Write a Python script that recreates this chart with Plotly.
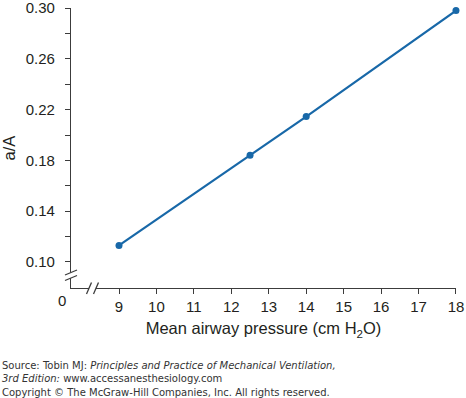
import plotly.graph_objects as go

pressure = [9, 12.5, 14, 18]
a_over_A = [0.113, 0.184, 0.2145, 0.298]

x_ticks = [9, 10, 11, 12, 13, 14, 15, 16, 17, 18]
y_major = [0.10, 0.14, 0.18, 0.22, 0.26, 0.30]
y_minor = [0.12, 0.16, 0.20, 0.24, 0.28]

W, H = 466, 398
L, R, T, B = 71, 10, 8, 110
pw, ph = W - L - R, H - T - B

def px(x):
    return (x - L) / pw

def py(y):
    return (T + ph - y) / ph

line_col = "#1868a8"
axis_col = "#3c3c3c"
text_col = "#231f20"

fig = go.Figure()
fig.add_trace(go.Scatter(
    x=pressure, y=a_over_A, mode="lines+markers",
    line=dict(color=line_col, width=2.2),
    marker=dict(color=line_col, size=7),
    cliponaxis=False, showlegend=False,
))

fig.update_layout(
    width=W, height=H,
    margin=dict(l=L, r=R, t=T, b=B, autoexpand=False),
    plot_bgcolor="white", paper_bgcolor="white",
    font=dict(family="Liberation Sans, Arial, sans-serif", size=15, color=text_col),
    xaxis=dict(
        range=[7.718, 18.0005], showgrid=False, zeroline=False, automargin=False,
        showline=True, linecolor=axis_col, linewidth=1.3,
        ticks="outside", ticklen=5, tickwidth=1.3, tickcolor=axis_col,
        tickvals=x_ticks, ticktext=[str(v) for v in x_ticks],
        ticklabeloverflow="allow",
        title=dict(text="Mean airway pressure (cm H<sub>2</sub>O)", font=dict(size=16.5), standoff=8),
    ),
    yaxis=dict(
        range=[0.0795, 0.30002], showgrid=False, zeroline=False, automargin=False,
        showline=True, linecolor=axis_col, linewidth=1.3,
        ticks="outside", ticklen=5, tickwidth=1.3, tickcolor=axis_col,
        tickvals=y_major, ticktext=["%.2f" % v for v in y_major],
        ticklabeloverflow="allow", ticklabelstandoff=7,
        minor=dict(tickvals=y_minor, ticks="outside", ticklen=5, tickwidth=1.3, tickcolor=axis_col),
        title=dict(text="a/A", font=dict(size=16.5), standoff=7),
    ),
)

shapes = []
# y-axis break
shapes.append(dict(type="rect", xref="paper", yref="paper",
                   x0=px(68), x1=px(74), y0=py(278), y1=py(272.5),
                   fillcolor="white", line=dict(width=0), layer="above"))
for cy in (272.5, 278):
    shapes.append(dict(type="line", xref="paper", yref="paper",
                       x0=px(65), y0=py(cy + 2.5), x1=px(77), y1=py(cy - 2.5),
                       line=dict(color=axis_col, width=1.3), layer="above"))
# x-axis break
shapes.append(dict(type="rect", xref="paper", yref="paper",
                   x0=px(89), x1=px(96), y0=py(290), y1=py(286),
                   fillcolor="white", line=dict(width=0), layer="above"))
for cx in (89, 96):
    shapes.append(dict(type="line", xref="paper", yref="paper",
                       x0=px(cx - 2.5), y0=py(294), x1=px(cx + 2.5), y1=py(282.5),
                       line=dict(color=axis_col, width=1.3), layer="above"))
fig.update_layout(shapes=shapes)

src_font = dict(family="DejaVu Sans, Verdana, sans-serif", size=10, color="#333333")
ann = [
    dict(text="0", x=px(62), y=py(300), xref="paper", yref="paper",
         showarrow=False, xanchor="center", yanchor="middle", font=dict(size=15)),
    dict(text="Source: Tobin MJ: <i>Principles and Practice of Mechanical Ventilation,</i>",
         x=px(0), y=py(365), xref="paper", yref="paper", showarrow=False,
         xanchor="left", yanchor="middle", font=src_font),
    dict(text="<i>3rd Edition:</i> www.accessanesthesiology.com",
         x=px(0), y=py(378), xref="paper", yref="paper", showarrow=False,
         xanchor="left", yanchor="middle", font=src_font),
    dict(text="Copyright © The McGraw-Hill Companies, Inc. All rights reserved.",
         x=px(0), y=py(392), xref="paper", yref="paper", showarrow=False,
         xanchor="left", yanchor="middle", font=src_font),
]
fig.update_layout(annotations=ann)

fig.write_html("out.html", config={"displayModeBar": False},
               post_script="document.body.style.margin='0';")
